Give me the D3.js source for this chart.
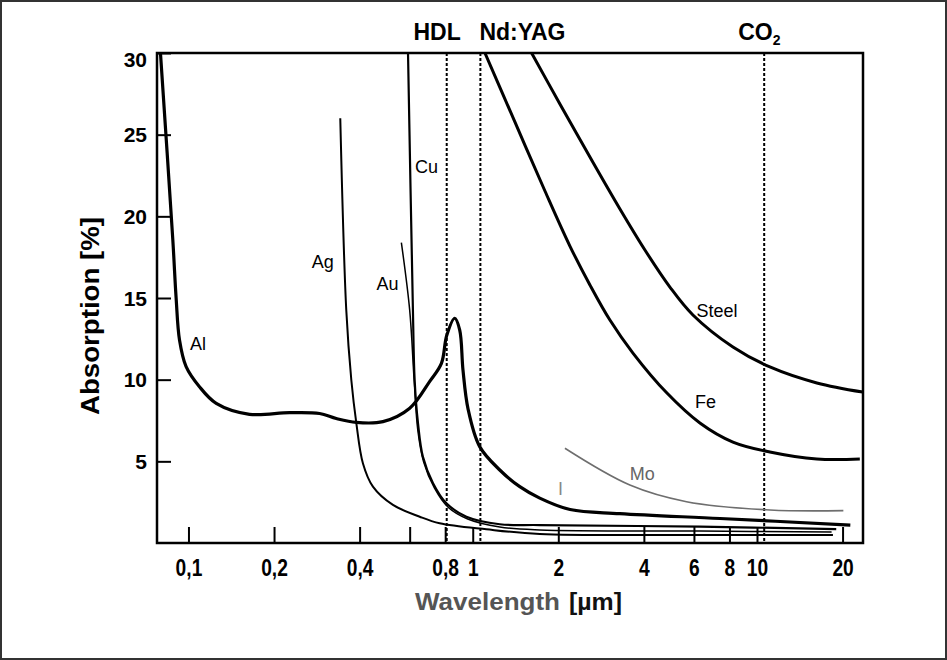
<!DOCTYPE html>
<html>
<head>
<meta charset="utf-8">
<script src="https://cdn.jsdelivr.net/npm/d3@7"></script>
<style>
  body { margin: 0; background: #fff; }
  text { font-family: 'Liberation Sans', Arial, sans-serif; }
</style>
</head>
<body>
<div id="chart"></div>
<script>
const W = 947, H = 660
const MARGIN = {top: 53, right: 84, bottom: 117, left: 157}

// wavelength in µm, absorption in %
const alLambda = [0.0797, 0.0881, 0.0905, 0.093, 0.0981, 0.1093, 0.1252, 0.164, 0.2268, 0.2892, 0.3311, 0.3896, 0.4832, 0.6003, 0.706, 0.776, 0.81, 0.864, 0.9, 0.924, 0.963, 1.058, 1.245, 1.464, 1.721, 2.2, 3.29, 7.41, 21.3]
const alValue  = [30.0, 18.55, 14.98, 12.43, 10.8, 9.57, 8.55, 7.88, 7.98, 7.93, 7.62, 7.38, 7.43, 8.25, 9.9, 11.0, 12.7, 13.76, 13.04, 10.6, 8.2, 5.9, 4.47, 3.45, 2.75, 2.05, 1.8, 1.5, 1.1]

const agLambda = [0.342, 0.359, 0.374, 0.3896, 0.411, 0.4456, 0.524, 0.651, 0.765, 1.117, 1.721, 6.3, 18.5]
const agValue  = [26.0, 14.27, 9.98, 7.33, 4.87, 3.45, 2.33, 1.61, 1.21, 0.84, 0.55, 0.49, 0.49]

const auLambda = [0.561, 0.600, 0.622, 0.641, 0.672, 0.733, 0.818, 0.96, 1.245, 1.721, 6.3, 18.3]
const auValue  = [18.39, 14.27, 10.0, 6.9, 4.96, 3.37, 2.2, 1.47, 0.98, 0.8, 0.73, 0.67]

const cuLambda = [0.592, 0.616, 0.6247, 0.642, 0.668, 0.725, 0.808, 0.95, 1.245, 1.721, 6.3, 19.0]
const cuValue  = [30.0, 14.27, 9.98, 7.33, 5.28, 3.66, 2.43, 1.61, 1.15, 1.1, 1.0, 0.85]

const feLambda = [1.104, 1.407, 1.795, 2.197, 2.584, 3.038, 3.661, 4.822, 6.297, 8.229, 11.1, 16.24, 23.0]
const feValue  = [30.0, 25.78, 21.55, 18.18, 15.8, 13.65, 11.63, 9.18, 7.35, 6.18, 5.57, 5.14, 5.14]

const steelLambda = [1.611, 2.026, 2.584, 3.295, 4.034, 4.939, 5.951, 8.229, 11.1, 16.24, 23.54]
const steelValue  = [30.0, 26.88, 23.63, 20.45, 17.94, 15.67, 13.96, 12.0, 10.78, 9.8, 9.24]

const moLambda = [2.11, 3.57, 5.65, 11.11, 20.13]
const moValue  = [5.8, 3.55, 2.53, 2.02, 1.98]

const laserNames  = ['HDL', 'Nd:YAG', 'CO']
const laserLambda = [0.81, 1.064, 10.6]

const xTickValues = [0.1, 0.2, 0.4, 0.6, 0.8, 1, 2, 4, 6, 8, 10, 20]
const xTickLabels = ['0,1', '0,2', '0,4', '', '0,8', '1', '2', '4', '6', '8', '10', '20']
const yTickValues = [5, 10, 15, 20, 25, 30]

const svg = d3.select('#chart').append('svg')
    .attr('width', W)
    .attr('height', H)

// outer frame of the picture
svg.append('rect')
    .attr('x', 1).attr('y', 1)
    .attr('width', W - 2).attr('height', H - 2)
    .attr('fill', 'none')
    .attr('stroke', '#333')
    .attr('stroke-width', 2)

let x = d3.scaleLog()
    .domain([0.0775, 23.6])
    .range([MARGIN.left, W - MARGIN.right])

let y = d3.scaleLinear()
    .domain([0, 30])
    .range([H - MARGIN.bottom, MARGIN.top])

let plot = svg.append('g')

// clip so the curves stop at the frame
svg.append('clipPath').attr('id', 'clip')
    .append('rect')
    .attr('x', MARGIN.left).attr('y', MARGIN.top)
    .attr('width', W - MARGIN.left - MARGIN.right)
    .attr('height', H - MARGIN.top - MARGIN.bottom)

// laser lines
plot.selectAll('.laser')
    .data(laserLambda)
    .join('line')
    .attr('class', 'laser')
    .attr('x1', d => x(d)).attr('x2', d => x(d))
    .attr('y1', y(30)).attr('y2', y(0))
    .attr('stroke', '#000')
    .attr('stroke-width', 2)
    .attr('stroke-dasharray', '3,2')

// x axis, ticks point inward
let xAxis = svg.append('g')
    .attr('transform', 'translate(0,' + y(0) + ')')
    .call(d3.axisBottom(x)
        .tickValues(xTickValues)
        .tickFormat((d, i) => xTickLabels[i])
        .tickSize(-16)
        .tickPadding(16))
xAxis.select('.domain').remove()
xAxis.selectAll('line').attr('stroke-width', 2)
xAxis.selectAll('text')
    .attr('fill', '#000')
    .style('font-size', '24px')
    .style('font-weight', 'bold')
    .each(function() {
        let len = this.getComputedTextLength()
        if (len > 0) d3.select(this).attr('textLength', len * 0.8).attr('lengthAdjust', 'spacingAndGlyphs')
    })

// y axis
let yAxis = svg.append('g')
    .attr('transform', 'translate(' + x.range()[0] + ',0)')
    .call(d3.axisLeft(y)
        .tickValues(yTickValues)
        .tickSize(-14)
        .tickPadding(10))
yAxis.select('.domain').remove()
yAxis.selectAll('line').attr('stroke-width', 2)
yAxis.selectAll('text')
    .attr('fill', '#000')
    .style('font-size', '21px')
    .style('font-weight', 'bold')
    .attr('dy', d => d === 30 ? '0.62em' : '0.34em')

// frame
svg.append('rect')
    .attr('x', x.range()[0]).attr('y', y(30))
    .attr('width', x.range()[1] - x.range()[0])
    .attr('height', y(0) - y(30))
    .attr('fill', 'none')
    .attr('stroke', '#000')
    .attr('stroke-width', 2.5)

let line = d3.line()
    .x(d => x(d[0]))
    .y(d => y(d[1]))
    .curve(d3.curveCatmullRom.alpha(0.5))

let series = [
    {lam: moLambda, val: moValue, w: 1.6, c: '#6e6e6e'},
    {lam: agLambda, val: agValue, w: 2, c: '#000'},
    {lam: auLambda, val: auValue, w: 1.5, c: '#000'},
    {lam: cuLambda, val: cuValue, w: 2.2, c: '#000'},
    {lam: alLambda, val: alValue, w: 3.2, c: '#000'},
    {lam: feLambda, val: feValue, w: 3, c: '#000'},
    {lam: steelLambda, val: steelValue, w: 3, c: '#000'}
]

svg.append('g')
    .attr('clip-path', 'url(#clip)')
    .selectAll('path')
    .data(series)
    .join('path')
    .attr('d', s => line(s.lam.map((l, i) => [l, s.val[i]])))
    .attr('fill', 'none')
    .attr('stroke', s => s.c)
    .attr('stroke-width', s => s.w)
    .attr('stroke-linejoin', 'round')

// curve names
let names = [
    ['Al', 0.1012, 11.82, '#000'],
    ['Ag', 0.2713, 16.82, '#000'],
    ['Au', 0.459, 15.49, '#000'],
    ['Cu', 0.626, 22.64, '#000'],
    ['Steel', 6.13, 13.86, '#000'],
    ['Fe', 6.05, 8.25, '#000'],
    ['Mo', 3.57, 3.86, '#666'],
    ['I', 1.994, 2.94, '#888']
]
svg.selectAll('.name')
    .data(names)
    .join('text')
    .attr('class', 'name')
    .attr('x', d => x(d[1]))
    .attr('y', d => y(d[2]))
    .attr('fill', d => d[3])
    .style('font-size', '18px')
    .text(d => d[0])

// laser names on top
let offs = [[14, 'end'], [-1, 'start'], [-26, 'start']]
let laserText = svg.selectAll('.lasername')
    .data(laserNames)
    .join('text')
    .attr('class', 'lasername')
    .attr('x', (d, i) => x(laserLambda[i]) + offs[i][0])
    .attr('y', 40)
    .attr('text-anchor', (d, i) => offs[i][1])
    .style('font-size', '23px')
    .style('font-weight', 'bold')
    .text(d => d)
laserText.filter(d => d === 'CO')
    .append('tspan')
    .attr('dy', 5)
    .style('font-size', '14px')
    .text('2')

// axis titles
svg.append('text')
    .attr('transform', 'translate(99,316) rotate(-90)')
    .attr('text-anchor', 'middle')
    .style('font-size', '25px')
    .style('font-weight', 'bold')
    .attr('textLength', 198)
    .attr('lengthAdjust', 'spacingAndGlyphs')
    .text('Absorption [%]')

let xt = svg.append('text')
    .attr('y', 610)
    .style('font-size', '23px')
    .style('font-weight', 'bold')
xt.append('tspan')
    .attr('x', 415)
    .attr('fill', '#555')
    .attr('textLength', 145)
    .attr('lengthAdjust', 'spacingAndGlyphs')
    .text('Wavelength')
xt.append('tspan')
    .attr('x', 569)
    .attr('fill', '#111')
    .attr('textLength', 53)
    .attr('lengthAdjust', 'spacingAndGlyphs')
    .text('[µm]')
</script>
</body>
</html>
